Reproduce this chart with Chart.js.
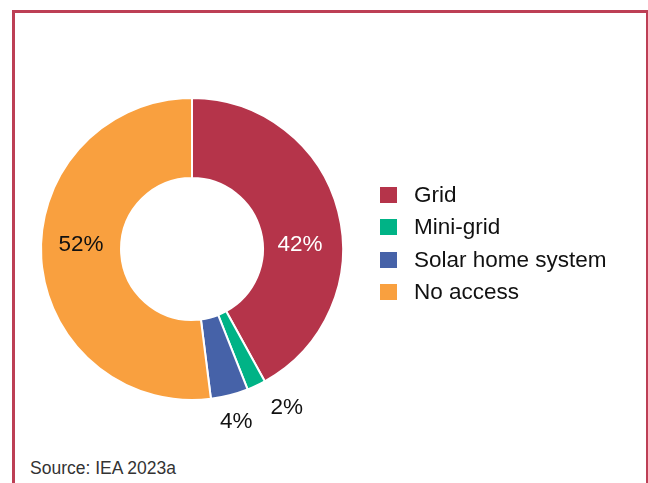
<!DOCTYPE html>
<html>
<head>
<meta charset="utf-8">
<script src="https://cdn.jsdelivr.net/npm/chart.js@4"></script>
<style>
  html, body { margin: 0; padding: 0; background: #fff; }
  body { width: 648px; height: 483px; overflow: hidden; position: relative;
         font-family: "Liberation Sans", Arial, Helvetica, sans-serif; }
  .frame { position: absolute; left: 12px; top: 10px; width: 631px; height: 500px;
           border: 3px solid #bd3f55; border-bottom: none; }
  .donut { position: absolute; left: 1px; top: 58px; width: 382px; height: 382px; }
  .legend { position: absolute; left: 380px; top: 179px; }
  .legend .row { height: 32.3px; display: flex; align-items: center; font-size: 22.5px; color: #111; }
  .legend .box { width: 17px; height: 16px; margin-right: 17px; }
  .source { position: absolute; left: 30px; top: 458px; font-size: 17.5px; color: #333; }
</style>
</head>
<body>
<div class="frame"></div>
<div class="donut"><canvas id="grafico"></canvas></div>
<div class="legend" id="legenda"></div>
<div class="source">Source: IEA 2023a</div>

<script>
const categorias = ["Grid", "Mini-grid", "Solar home system", "No access"];
const valores = [42, 2, 4, 52];
const rotulos = ["42%", "2%", "4%", "52%"];
const cores = ["#b5344a", "#00b386", "#4662a8", "#f9a03f"];

// where each label goes: inside the ring or outside, plus a small nudge
const posRotulo = [
    { fora: false, desvio: 12, raio: 108, cor: "#fff" },
    { fora: true, desvio: -5.6, raio: 34, cor: "#111" },
    { fora: true, desvio: 0, raio: 27, cor: "#111" },
    { fora: false, desvio: 5.6, raio: 111, cor: "#111" }
];

// legend
const legenda = document.getElementById("legenda");
categorias.forEach((nome, i) => {
    const row = document.createElement("div");
    row.className = "row";
    row.innerHTML = `<span class="box" style="background:${cores[i]}"></span><span>${nome}</span>`;
    legenda.appendChild(row);
});

const rotulosPlugin = {
    id: "rotulos",
    afterDatasetsDraw(chart) {
        const ctx = chart.ctx;
        const meta = chart.getDatasetMeta(0);
        ctx.save();
        ctx.font = "22.5px 'Liberation Sans', Arial, sans-serif";
        ctx.textAlign = "center";
        ctx.textBaseline = "middle";
        meta.data.forEach((arc, i) => {
            const p = arc.getProps(["x", "y", "startAngle", "endAngle", "outerRadius"], true);
            const pos = posRotulo[i];
            const ang = (p.startAngle + p.endAngle) / 2 + pos.desvio * Math.PI / 180;
            const r = pos.fora ? p.outerRadius + pos.raio : pos.raio;
            ctx.fillStyle = pos.cor;
            ctx.fillText(rotulos[i], p.x + Math.cos(ang) * r, p.y + Math.sin(ang) * r);
        });
        ctx.restore();
    }
};

new Chart(document.getElementById("grafico"), {
    type: "doughnut",
    data: {
        labels: categorias,
        datasets: [{
            data: valores,
            backgroundColor: cores,
            borderColor: "#fff",
            borderWidth: 2,
            hoverOffset: 0
        }]
    },
    options: {
        responsive: true,
        maintainAspectRatio: false,
        animation: false,
        cutout: "47%",
        layout: { padding: 39 },
        plugins: {
            legend: { display: false },
            tooltip: { enabled: false }
        }
    },
    plugins: [rotulosPlugin]
});
</script>
</body>
</html>
